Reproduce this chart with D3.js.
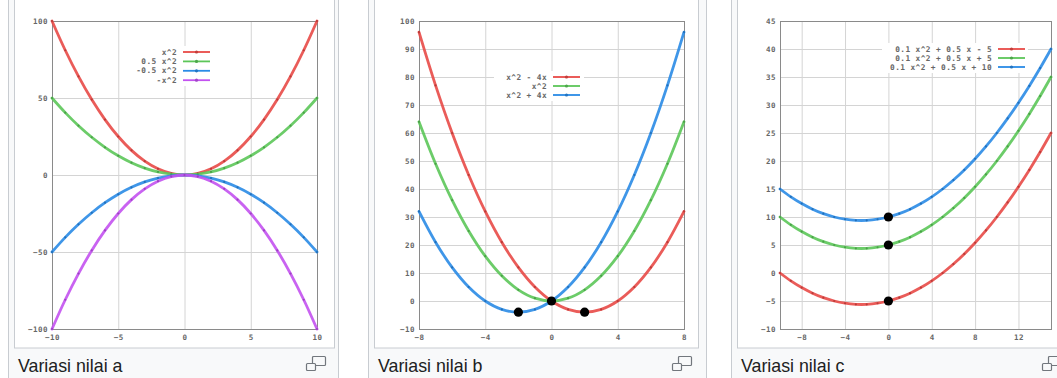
<!DOCTYPE html>
<html>
<head>
<meta charset="utf-8">
<script src="https://cdn.jsdelivr.net/npm/d3@7"></script>
<style>
  html, body { margin: 0; padding: 0; background: #fff; }
  svg { display: block; }
</style>
</head>
<body>
<svg id="chart" width="1057" height="378"></svg>
<script>
const captions = ["Variasi nilai a", "Variasi nilai b", "Variasi nilai c"];

// panel a: y = a x^2
const xA = [-10, -9, -8, -7, -6, -5, -4, -3, -2, -1, 0, 1, 2, 3, 4, 5, 6, 7, 8, 9, 10];
const aOne      = [100, 81, 64, 49, 36, 25, 16, 9, 4, 1, 0, 1, 4, 9, 16, 25, 36, 49, 64, 81, 100];
const aHalf     = [50, 40.5, 32, 24.5, 18, 12.5, 8, 4.5, 2, 0.5, 0, 0.5, 2, 4.5, 8, 12.5, 18, 24.5, 32, 40.5, 50];
const aMinHalf  = [-50, -40.5, -32, -24.5, -18, -12.5, -8, -4.5, -2, -0.5, 0, -0.5, -2, -4.5, -8, -12.5, -18, -24.5, -32, -40.5, -50];
const aMinOne   = [-100, -81, -64, -49, -36, -25, -16, -9, -4, -1, 0, -1, -4, -9, -16, -25, -36, -49, -64, -81, -100];
const labelsA = ["x^2", "0.5 x^2", "-0.5 x^2", "-x^2"];
const xTicksA = [-10, -5, 0, 5, 10];
const yTicksA = [-100, -50, 0, 50, 100];

// panel b: y = x^2 + b x
const xB = [-8, -7, -6, -5, -4, -3, -2, -1, 0, 1, 2, 3, 4, 5, 6, 7, 8];
const bMinus = [96, 77, 60, 45, 32, 21, 12, 5, 0, -3, -4, -3, 0, 5, 12, 21, 32];
const bZero  = [64, 49, 36, 25, 16, 9, 4, 1, 0, 1, 4, 9, 16, 25, 36, 49, 64];
const bPlus  = [32, 21, 12, 5, 0, -3, -4, -3, 0, 5, 12, 21, 32, 45, 60, 77, 96];
const labelsB = ["x^2 - 4x", "x^2", "x^2 + 4x"];
const dotsBx = [-2, 0, 2];
const dotsBy = [-4, 0, -4];
const xTicksB = [-8, -4, 0, 4, 8];
const yTicksB = [-10, 0, 10, 20, 30, 40, 50, 60, 70, 80, 90, 100];

// panel c: y = 0.1 x^2 + 0.5 x + c
const xC = [-10, -9, -8, -7, -6, -5, -4, -3, -2, -1, 0, 1, 2, 3, 4, 5, 6, 7, 8, 9, 10, 11, 12, 13, 14, 15];
const cMinus5 = [0, -1.4, -2.6, -3.6, -4.4, -5, -5.4, -5.6, -5.6, -5.4, -5, -4.4, -3.6, -2.6, -1.4, 0, 1.6, 3.4, 5.4, 7.6, 10, 12.6, 15.4, 18.4, 21.6, 25];
const cPlus5  = [10, 8.6, 7.4, 6.4, 5.6, 5, 4.6, 4.4, 4.4, 4.6, 5, 5.6, 6.4, 7.4, 8.6, 10, 11.6, 13.4, 15.4, 17.6, 20, 22.6, 25.4, 28.4, 31.6, 35];
const cPlus10 = [15, 13.6, 12.4, 11.4, 10.6, 10, 9.6, 9.4, 9.4, 9.6, 10, 10.6, 11.4, 12.4, 13.6, 15, 16.6, 18.4, 20.4, 22.6, 25, 27.6, 30.4, 33.4, 36.6, 40];
const labelsC = ["0.1 x^2 + 0.5 x - 5", "0.1 x^2 + 0.5 x + 5", "0.1 x^2 + 0.5 x + 10"];
const dotsCx = [0, 0, 0];
const dotsCy = [-5, 5, 10];
const xTicksC = [-8, -4, 0, 4, 8, 12];
const yTicksC = [-10, -5, 0, 5, 10, 15, 20, 25, 30, 35, 40, 45];

const RED = "#e84a47", GREEN = "#5cc659", BLUE = "#2a8be6", PURPLE = "#c352f0";

const panels = [
  { x0: 0, outer: [8, 338], inner: [14, 334], plot: [52, 317], xd: [-10, 10], yd: [-100, 100],
    xs: xA, series: [aOne, aHalf, aMinHalf, aMinOne], colors: [RED, GREEN, BLUE, PURPLE],
    labels: labelsA, xt: xTicksA, yt: yTicksA, leg: { right: 177, y: 52, dy: 9.4, box: [128, 46, 88, 40] },
    dx: [], dy: [], caption: captions[0], icon: 306 },
  { x0: 360, outer: [368, 706], inner: [374, 698], plot: [419, 684], xd: [-8, 8], yd: [-10, 100],
    xs: xB, series: [bMinus, bZero, bPlus], colors: [RED, GREEN, BLUE],
    labels: labelsB, xt: xTicksB, yt: yTicksB, leg: { right: 547, y: 77, dy: 9, box: [494, 71, 90, 30] },
    dx: dotsBx, dy: dotsBy, caption: captions[1], icon: 672 },
  { x0: 720, outer: [731, 1070], inner: [737, 1066], plot: [780, 1051], xd: [-10, 15], yd: [-10, 45],
    xs: xC, series: [cMinus5, cPlus5, cPlus10], colors: [RED, GREEN, BLUE],
    labels: labelsC, xt: xTicksC, yt: yTicksC, leg: { right: 992, y: 49, dy: 9, box: [882, 43, 146, 30] },
    dx: dotsCx, dy: dotsCy, caption: captions[2], icon: 1042 }
];

const svg = d3.select("#chart");
const plotTop = 21, plotBottom = 329;

panels.forEach(p => {
  const g = svg.append("g");

  // wiki thumb frame
  g.append("rect")
    .attr("x", p.outer[0] + 0.5).attr("y", -2)
    .attr("width", p.outer[1] - p.outer[0]).attr("height", 400)
    .attr("fill", "#f8f9fa").attr("stroke", "#c8ccd1");
  g.append("rect")
    .attr("x", p.inner[0] + 0.5).attr("y", -2)
    .attr("width", p.inner[1] - p.inner[0]).attr("height", 350)
    .attr("fill", "#fff").attr("stroke", "#c8ccd1");

  const x = d3.scaleLinear().domain(p.xd).range(p.plot);
  const y = d3.scaleLinear().domain(p.yd).range([plotBottom, plotTop]);

  // grid
  g.append("g").attr("transform", `translate(0,${plotBottom})`)
    .call(d3.axisBottom(x).tickValues(p.xt).tickSize(-(plotBottom - plotTop)).tickFormat(""))
    .call(s => s.select(".domain").remove())
    .call(s => s.selectAll("line").attr("stroke", "#d4d4d4"));
  g.append("g").attr("transform", `translate(${p.plot[0]},0)`)
    .call(d3.axisLeft(y).tickValues(p.yt).tickSize(-(p.plot[1] - p.plot[0])).tickFormat(""))
    .call(s => s.select(".domain").remove())
    .call(s => s.selectAll("line").attr("stroke", "#d4d4d4"));

  // tick labels
  const tickStyle = s => s.selectAll("text").attr("font-family", "DejaVu Sans Mono")
    .attr("font-size", 7.5).attr("font-weight", "bold")
    .attr("fill", "#666").attr("letter-spacing", 0.5);
  g.append("g").attr("transform", `translate(0,${plotBottom})`)
    .call(d3.axisBottom(x).tickValues(p.xt).tickSize(0).tickPadding(6))
    .call(s => s.select(".domain").remove())
    .call(tickStyle);
  g.append("g").attr("transform", `translate(${p.plot[0]},0)`)
    .call(d3.axisLeft(y).tickValues(p.yt).tickSize(0).tickPadding(4))
    .call(s => s.select(".domain").remove())
    .call(tickStyle);

  // legend box
  const L = p.leg;
  g.append("rect").attr("x", L.box[0]).attr("y", L.box[1])
    .attr("width", L.box[2]).attr("height", L.box[3]).attr("fill", "#fff");

  // plot border
  g.append("rect")
    .attr("x", p.plot[0] + 0.5).attr("y", plotTop + 0.5)
    .attr("width", p.plot[1] - p.plot[0]).attr("height", plotBottom - plotTop)
    .attr("fill", "none").attr("stroke", "#8a8a8a");

  // curves
  const clipId = "clip" + p.x0;
  g.append("clipPath").attr("id", clipId).append("rect")
    .attr("x", p.plot[0] - 2).attr("y", plotTop - 2)
    .attr("width", p.plot[1] - p.plot[0] + 4).attr("height", plotBottom - plotTop + 4);
  const line = d3.line().curve(d3.curveCatmullRom.alpha(0.5))
    .x((d, i) => x(p.xs[i])).y(d => y(d));
  p.series.forEach((s, k) => {
    g.append("path").datum(s)
      .attr("clip-path", `url(#${clipId})`)
      .attr("d", line)
      .attr("fill", "none")
      .attr("stroke", p.colors[k])
      .attr("stroke-width", 2.8)
      .attr("stroke-linecap", "round")
      .attr("opacity", 0.9);
    g.append("g").selectAll("circle").data(s).join("circle")
      .attr("clip-path", `url(#${clipId})`)
      .attr("cx", (d, i) => x(p.xs[i])).attr("cy", d => y(d))
      .attr("r", 1.1).attr("fill", d3.color(p.colors[k]).darker(0.6));
  });

  // legend entries
  p.labels.forEach((t, k) => {
    const yy = L.y + k * L.dy;
    g.append("text").attr("x", L.right).attr("y", yy + 2.5)
      .attr("text-anchor", "end")
      .attr("font-family", "DejaVu Sans Mono").attr("font-size", 7.8).attr("font-weight", "bold")
      .attr("letter-spacing", 0.4).attr("fill", "#666").text(t);
    g.append("line").attr("x1", L.right + 6).attr("x2", L.right + 33)
      .attr("y1", yy).attr("y2", yy)
      .attr("stroke", p.colors[k]).attr("stroke-width", 1.8);
    g.append("circle").attr("cx", L.right + 19.5).attr("cy", yy).attr("r", 1.6)
      .attr("fill", d3.color(p.colors[k]).darker(0.5));
  });

  // vertex dots
  g.append("g").selectAll("circle").data(p.dx).join("circle")
    .attr("cx", d => x(d)).attr("cy", (d, i) => y(p.dy[i]))
    .attr("r", 4.6).attr("fill", "#000");

  // caption
  g.append("text").attr("x", p.inner[0] + 4).attr("y", 372)
    .attr("font-family", "Liberation Sans, Arial, sans-serif").attr("font-size", 17.8)
    .attr("fill", "#202122").text(p.caption);

  // enlarge icon
  const ic = g.append("g").attr("transform", `translate(${p.icon},356)`)
    .attr("fill", "none").attr("stroke", "#72777d").attr("stroke-width", 1.2);
  ic.append("rect").attr("x", 6.5).attr("y", 0.5).attr("width", 13).attr("height", 9).attr("rx", 1);
  ic.append("rect").attr("x", 0.5).attr("y", 7.5).attr("width", 9).attr("height", 7).attr("rx", 1)
    .attr("fill", "#f8f9fa");
});
</script>
</body>
</html>
